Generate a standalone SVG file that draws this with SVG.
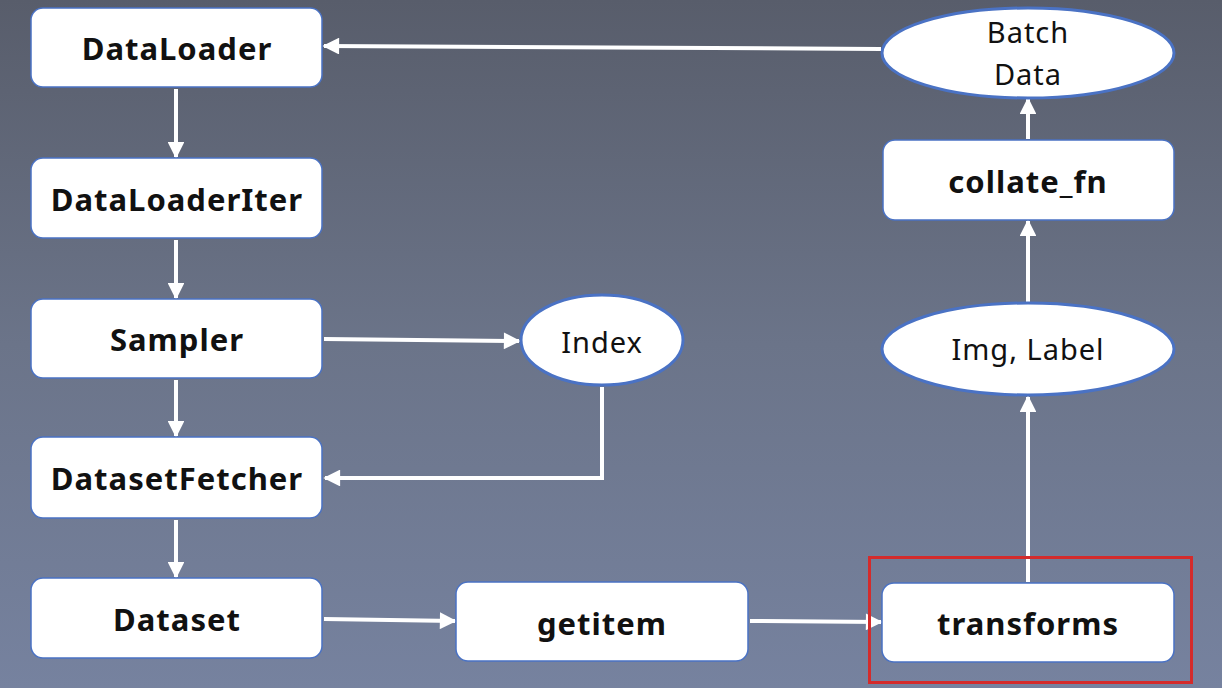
<svg xmlns="http://www.w3.org/2000/svg" width="1222" height="688" viewBox="0 0 1222 688">
  <defs>
    <linearGradient id="bg" x1="0" y1="0" x2="0" y2="1">
      <stop offset="0" stop-color="#585d6b"/>
      <stop offset="0.5" stop-color="#6b7489"/>
      <stop offset="1" stop-color="#76829f"/>
    </linearGradient>
    <marker id="arrow" viewBox="0 0 10 10" refX="9" refY="5" markerWidth="4.8" markerHeight="4.2" orient="auto" markerUnits="strokeWidth">
      <path d="M0,0 L10,5 L0,10 z" fill="#ffffff"/>
    </marker>
  </defs>
  <style>
    .box { fill: #ffffff; stroke: #4a72c4; stroke-width: 1.5; }
    .oval { fill: #ffffff; stroke: #4a72c4; stroke-width: 3; }
    .lbl { font-family: "Noto Sans", "Open Sans", sans-serif; font-weight: bold; font-size: 31px; letter-spacing: 1px; fill: #111111; text-anchor: middle; }
    .olbl { font-family: "Noto Sans", "Open Sans", sans-serif; font-size: 29px; letter-spacing: 1px; fill: #111111; text-anchor: middle; }
    .conn { fill: none; stroke: #ffffff; stroke-width: 4; marker-end: url(#arrow); }
  </style>

  <rect width="1222" height="688" fill="url(#bg)"/>

  <g id="connectors">
    <line class="conn" x1="176" y1="89" x2="176" y2="157"/>
    <line class="conn" x1="176" y1="240" x2="176" y2="298"/>
    <line class="conn" x1="176" y1="380" x2="176" y2="436"/>
    <line class="conn" x1="176" y1="520" x2="176" y2="577"/>
    <line class="conn" x1="324" y1="339" x2="519" y2="341"/>
    <polyline class="conn" points="602,387 602,478 325,478"/>
    <line class="conn" x1="324" y1="619" x2="455" y2="621"/>
    <line class="conn" x1="750" y1="621" x2="881" y2="622"/>
    <line class="conn" x1="1028" y1="582" x2="1028" y2="397"/>
    <line class="conn" x1="1028" y1="302" x2="1028" y2="221"/>
    <line class="conn" x1="1028" y1="139" x2="1028" y2="99"/>
    <line class="conn" x1="881" y1="49" x2="324" y2="46"/>
  </g>

  <g id="dataloader">
    <rect class="box" x="31" y="8" width="291" height="79" rx="12"/>
    <text class="lbl" x="177" y="60">DataLoader</text>
  </g>
  <g id="dataloaderiter">
    <rect class="box" x="31" y="158" width="291" height="80" rx="12"/>
    <text class="lbl" x="177" y="211">DataLoaderIter</text>
  </g>
  <g id="sampler">
    <rect class="box" x="31" y="299" width="291" height="79" rx="12"/>
    <text class="lbl" x="177" y="351">Sampler</text>
  </g>
  <g id="datasetfetcher">
    <rect class="box" x="31" y="437" width="291" height="81" rx="12"/>
    <text class="lbl" x="177" y="490">DatasetFetcher</text>
  </g>
  <g id="dataset">
    <rect class="box" x="31" y="578" width="291" height="80" rx="12"/>
    <text class="lbl" x="177" y="631">Dataset</text>
  </g>
  <g id="getitem">
    <rect class="box" x="456" y="582" width="292" height="79" rx="12"/>
    <text class="lbl" x="602" y="635">getitem</text>
  </g>
  <g id="transforms">
    <rect class="box" x="882" y="583" width="292" height="79" rx="12"/>
    <text class="lbl" x="1028" y="635">transforms</text>
    <rect x="869.5" y="557.5" width="322" height="125" fill="none" stroke="#d42b2b" stroke-width="3"/>
  </g>
  <g id="collate_fn">
    <rect class="box" x="883" y="140" width="291" height="80" rx="12"/>
    <text class="lbl" x="1028" y="193">collate_fn</text>
  </g>
  <g id="batch_data">
    <ellipse class="oval" cx="1028" cy="53" rx="146" ry="45"/>
    <text class="olbl" x="1028" y="43">Batch</text>
    <text class="olbl" x="1028" y="85">Data</text>
  </g>
  <g id="img_label">
    <ellipse class="oval" cx="1028" cy="349" rx="146" ry="46"/>
    <text class="olbl" x="1028" y="360">Img, Label</text>
  </g>
  <g id="index">
    <ellipse class="oval" cx="602" cy="340" rx="81" ry="45"/>
    <text class="olbl" x="602" y="353">Index</text>
  </g>
</svg>
